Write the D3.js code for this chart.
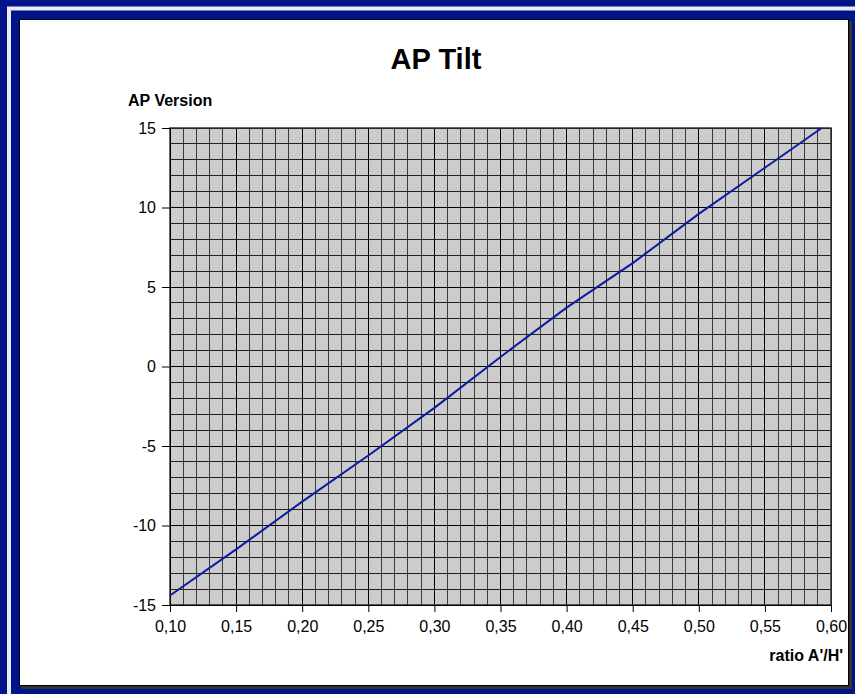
<!DOCTYPE html>
<html>
<head>
<meta charset="utf-8">
<script src="https://cdn.jsdelivr.net/npm/d3@7"></script>
<style>
  html, body { margin: 0; padding: 0; background: #021489; }
  svg { display: block; font-family: "Liberation Sans", Arial, sans-serif; }
</style>
</head>
<body>
<svg id="chart" width="855" height="694"></svg>
<script>
// values
const ratio = [0.10, 0.15, 0.20, 0.25, 0.30, 0.35, 0.40, 0.45, 0.50, 0.55, 0.593];
const apVersion = [-14.4, -11.5, -8.5, -5.6, -2.6, 0.6, 3.7, 6.5, 9.6, 12.5, 15.0];
const xTicks = [0.10, 0.15, 0.20, 0.25, 0.30, 0.35, 0.40, 0.45, 0.50, 0.55, 0.60];
const yTicks = [15, 10, 5, 0, -5, -10, -15];

const svg = d3.select("#chart");

// slide frame
svg.append("rect").attr("x", 0).attr("y", 0).attr("width", 855).attr("height", 694).attr("fill", "#021489");
svg.append("rect").attr("x", 9).attr("y", 8.5).attr("width", 860).attr("height", 700)
    .attr("fill", "none").attr("stroke", "#e8ecf8").attr("stroke-width", 4);
svg.append("rect").attr("x", 12).attr("y", 11).attr("width", 850).attr("height", 690).attr("fill", "#021489");
// chart area with shadow
svg.append("rect").attr("x", 21).attr("y", 21).attr("width", 831).attr("height", 668).attr("fill", "#333");
svg.append("rect").attr("x", 19.5).attr("y", 19.5).attr("width", 829).attr("height", 666)
    .attr("fill", "#fff").attr("stroke", "#000").attr("stroke-width", 1);

const x = d3.scaleLinear().domain([0.10, 0.60]).range([170, 831]);
const y = d3.scaleLinear().domain([-15, 15]).range([605, 128]);

// plot background
svg.append("rect").attr("x", x(0.10)).attr("y", y(15))
    .attr("width", x(0.60) - x(0.10)).attr("height", y(-15) - y(15))
    .attr("fill", "#cccccc");

// grid
const g = svg.append("g").attr("shape-rendering", "crispEdges");
const xMinor = d3.range(0, 51).map(i => 0.10 + i * 0.01);
const yMinor = d3.range(-15, 16);
g.selectAll(".vx").data(xMinor).enter().append("line")
    .attr("x1", d => x(d)).attr("x2", d => x(d))
    .attr("y1", y(15)).attr("y2", y(-15))
    .attr("stroke", (d, i) => i % 5 === 0 ? "#000" : "#3a3a3a").attr("stroke-width", 1);
g.selectAll(".hy").data(yMinor).enter().append("line")
    .attr("x1", x(0.10)).attr("x2", x(0.60))
    .attr("y1", d => y(d)).attr("y2", d => y(d))
    .attr("stroke", d => d % 5 === 0 ? "#000" : "#222").attr("stroke-width", 1);

// plot border
svg.append("rect").attr("x", x(0.10)).attr("y", y(15))
    .attr("width", x(0.60) - x(0.10)).attr("height", y(-15) - y(15))
    .attr("fill", "none").attr("stroke", "#333").attr("stroke-width", 1.5);

// axes
const xAxis = d3.axisBottom(x).tickValues(xTicks).tickSize(7).tickPadding(9)
    .tickFormat(d => d3.format(".2f")(d).replace(".", ","));
const yAxis = d3.axisLeft(y).tickValues(yTicks).tickSize(8).tickPadding(6)
    .tickFormat(d => String(d));

svg.append("g").attr("transform", `translate(0,${y(-15)})`).call(xAxis)
    .call(a => a.select(".domain").attr("stroke", "#000"))
    .call(a => a.selectAll("text").attr("font-size", 16).attr("fill", "#000")
        .attr("font-family", "Liberation Sans, Arial, sans-serif"));
svg.append("g").attr("transform", `translate(${x(0.10)},0)`).call(yAxis)
    .call(a => a.select(".domain").attr("stroke", "#000"))
    .call(a => a.selectAll("text").attr("font-size", 16).attr("fill", "#000")
        .attr("font-family", "Liberation Sans, Arial, sans-serif"));

// line
const pts = ratio.map((r, i) => [r, apVersion[i]]);
svg.append("path").datum(pts)
    .attr("d", d3.line().x(d => x(d[0])).y(d => y(d[1])))
    .attr("fill", "none").attr("stroke", "#0b1c9e").attr("stroke-width", 2);

// texts
svg.append("text").attr("x", 436).attr("y", 69).attr("text-anchor", "middle")
    .attr("font-size", 29).attr("font-weight", "bold").text("AP Tilt");
svg.append("text").attr("x", 128).attr("y", 106)
    .attr("font-size", 16).attr("font-weight", "bold").text("AP Version");
svg.append("text").attr("x", 843).attr("y", 661).attr("text-anchor", "end")
    .attr("font-size", 16).attr("font-weight", "bold").text("ratio A'/H'");
</script>
</body>
</html>
